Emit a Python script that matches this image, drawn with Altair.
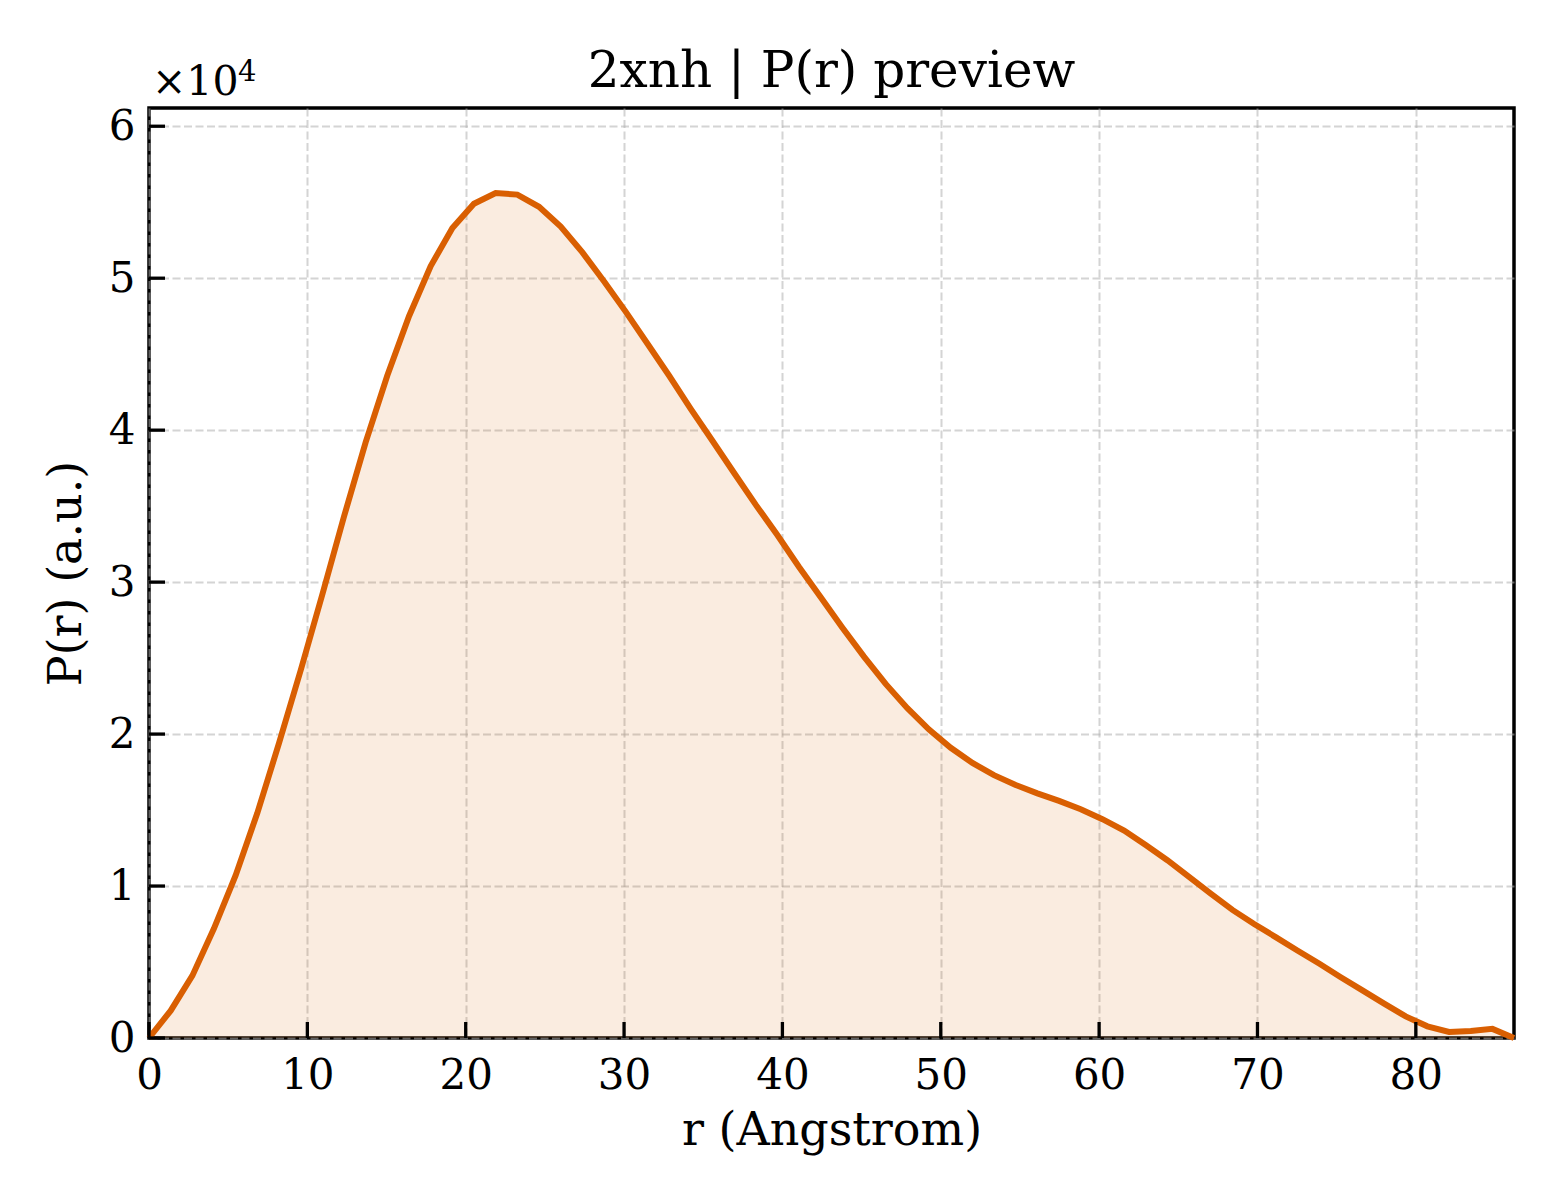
import altair as alt
import pandas as pd

# r grid (Angstrom)
r_vals = [0.0, 1.37, 2.74, 4.10, 5.47, 6.84, 8.21, 9.58, 10.95, 12.31,
          13.68, 15.05, 16.42, 17.79, 19.16, 20.52, 21.89, 23.26, 24.63, 26.00,
          27.37, 28.73, 30.10, 31.47, 32.84, 34.21, 35.58, 36.94, 38.31, 39.68,
          41.05, 42.42, 43.79, 45.15, 46.52, 47.89, 49.26, 50.63, 52.00, 53.36,
          54.73, 56.10, 57.47, 58.84, 60.21, 61.58, 62.94, 64.31, 65.68, 67.05,
          68.42, 69.79, 71.15, 72.52, 73.89, 75.26, 76.63, 78.00, 79.36, 80.73,
          82.10, 83.47, 84.84, 86.20]

# P(r) in units of 1e4
p_vals = [0.0, 0.18, 0.41, 0.72, 1.07, 1.48, 1.94, 2.42, 2.92, 3.43,
          3.92, 4.36, 4.75, 5.08, 5.33, 5.49, 5.56, 5.55, 5.47, 5.34,
          5.17, 4.98, 4.78, 4.57, 4.36, 4.14, 3.93, 3.72, 3.51, 3.31,
          3.10, 2.90, 2.70, 2.51, 2.33, 2.17, 2.03, 1.91, 1.81, 1.73,
          1.665, 1.61, 1.56, 1.505, 1.44, 1.365, 1.27, 1.17, 1.06, 0.95,
          0.843, 0.75, 0.664, 0.576, 0.49, 0.40, 0.313, 0.226, 0.142, 0.077,
          0.04, 0.046, 0.06, 0.0]

x_ticks = [0, 10, 20, 30, 40, 50, 60, 70, 80]
y_ticks = [0, 1, 2, 3, 4, 5, 6]
title_text = "2xnh | P(r) preview"

W, H = 1365, 930
FONT = "DejaVu Serif"
LINE = "#d95f02"

df = pd.DataFrame({"r": r_vals, "p": p_vals})
xs = alt.Scale(domain=[0, 86.2], nice=False, zero=False)
ys = alt.Scale(domain=[0, 6.12], nice=False, zero=False)

xaxis = alt.Axis(values=x_ticks, title="r (Angstrom)", grid=True, ticks=False,
                 tickSize=0, domain=False, labelFlush=False, labelFontSize=42,
                 labelPadding=17, titleFontSize=46, titlePadding=12, format="d")
yaxis = alt.Axis(values=y_ticks, title="P(r) (a.u.)", grid=True, ticks=False,
                 tickSize=0, domain=False, labelFlush=False, labelFontSize=42,
                 labelPadding=14, titleFontSize=46, titlePadding=18, format="d")

base = alt.Chart(df)
area = base.mark_area(color=LINE, opacity=0.12).encode(
    x=alt.X("r:Q", scale=xs, axis=xaxis),
    y=alt.Y("p:Q", scale=ys, axis=yaxis),
)
line = base.mark_line(color=LINE, strokeWidth=6).encode(
    x=alt.X("r:Q", scale=xs, axis=xaxis),
    y=alt.Y("p:Q", scale=ys, axis=yaxis),
)

xtick = alt.Chart(pd.DataFrame({"t": x_ticks})).mark_rule(
    color="black", strokeWidth=3.3).encode(
    x=alt.X("t:Q", scale=xs, axis=xaxis),
    y=alt.value(H), y2=alt.value(H - 16),
)
ytick = alt.Chart(pd.DataFrame({"t": y_ticks})).mark_rule(
    color="black", strokeWidth=3.3).encode(
    y=alt.Y("t:Q", scale=ys, axis=yaxis),
    x=alt.value(0), x2=alt.value(16),
)

off1 = alt.Chart(pd.DataFrame({"s": ["×10"]})).mark_text(
    align="left", baseline="alphabetic", fontSize=41, font=FONT, color="black").encode(
    text="s:N", x=alt.value(3), y=alt.value(-13))
off2 = alt.Chart(pd.DataFrame({"s": ["4"]})).mark_text(
    align="left", baseline="alphabetic", fontSize=29, font=FONT, color="black").encode(
    text="s:N", x=alt.value(89), y=alt.value(-27))
title = alt.Chart(pd.DataFrame({"s": [title_text]})).mark_text(
    align="center", baseline="alphabetic", fontSize=50, font=FONT, color="black").encode(
    text="s:N", x=alt.value(W / 2), y=alt.value(-21))

chart = alt.layer(area, line, xtick, ytick, off1, off2, title).properties(
    width=W, height=H,
    padding={"left": 141, "top": 100, "right": 38, "bottom": 150},
    autosize=alt.AutoSizeParams(type="none"),
    background="white",
).configure_view(
    stroke="black", strokeWidth=3.5
).configure_axis(
    gridColor="#b0b0b0", gridOpacity=0.55, gridDash=[8, 3.5], gridWidth=2,
    labelFont=FONT, titleFont=FONT, labelColor="black", titleColor="black",
    titleFontWeight="normal",
)

chart.save("out.html", embed_options={"renderer": "svg", "actions": False})
